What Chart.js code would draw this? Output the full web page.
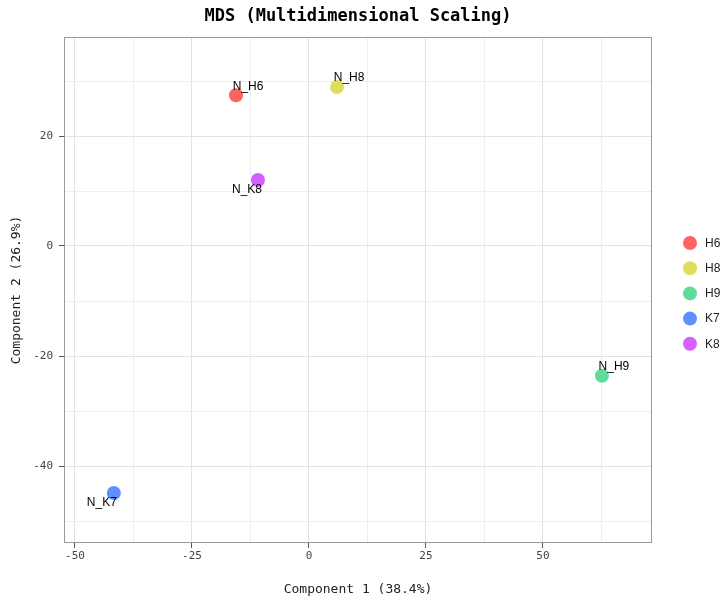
<!DOCTYPE html>
<html><head><meta charset="utf-8">
<script src="https://cdn.jsdelivr.net/npm/chart.js@4/dist/chart.umd.min.js"></script>
<style>html,body{margin:0;padding:0;background:#fff}#wrap{width:720px;height:603px;position:relative}</style>
</head><body><div id="wrap"><canvas id="c" width="720" height="603"></canvas></div>
<script>
const groups = ['H6','H8','H9','K7','K8'];
const sampleLabels = ['N_H6','N_H8','N_H9','N_K7','N_K8'];
const comp1 = [-15.6, 6.0, 62.6, -41.7, -10.9];
const comp2 = [27.4, 28.9, -23.6, -44.9, 12.0];
const xTicks = [-50, -25, 0, 25, 50];
const yTicks = [-40, -20, 0, 20];
const titleText = 'MDS (Multidimensional Scaling)';
const xTitle = 'Component 1 (38.4%)';
const yTitle = 'Component 2 (26.9%)';

const colors = ['#FF6262','#DEDE5E','#5FDC9C','#5F8EFF','#D660FF'];
const labelOffsets = [[12,-9],[12,-9],[12,-9],[-12,10],[-11,10]];
const MONO = '"DejaVu Sans Mono", monospace';
const SANS = '"Liberation Sans", Arial, sans-serif';

const datasets = groups.map((g,i)=>({
  label: g,
  data: [{x: comp1[i], y: comp2[i], name: sampleLabels[i]}],
  backgroundColor: colors[i],
  borderColor: colors[i],
  pointRadius: 7,
  pointHoverRadius: 7,
  borderWidth: 0
}));

function withMinor(major){
  const out = [];
  for (let i=0;i<major.length;i++){
    out.push({value: major[i], major: true});
  }
  const step = major[1]-major[0];
  for (let v = major[0]-step/2; v <= major[major.length-1]+step; v += step){
    out.push({value: v, major: false});
  }
  return out.sort((a,b)=>a.value-b.value);
}

const decor = {
  id: 'decor',
  afterDatasetsDraw(chart){
    const ctx = chart.ctx, ca = chart.chartArea;
    ctx.save();
    ctx.strokeStyle = '#9a9a9a'; ctx.lineWidth = 1;
    ctx.strokeRect(ca.left+0.5, ca.top+0.5, ca.right-ca.left-1, ca.bottom-ca.top-1);
    ctx.fillStyle = '#000'; ctx.font = '12px ' + SANS;
    ctx.textAlign = 'center'; ctx.textBaseline = 'middle';
    const xs = chart.scales.x, ys = chart.scales.y;
    for (let i=0;i<sampleLabels.length;i++){
      const px = xs.getPixelForValue(comp1[i]), py = ys.getPixelForValue(comp2[i]);
      ctx.fillText(sampleLabels[i], px + labelOffsets[i][0], py + labelOffsets[i][1]);
    }
    ctx.restore();
  },
  afterDraw(chart){
    const ctx = chart.ctx, ca = chart.chartArea;
    ctx.save();
    const cx = (ca.left+ca.right)/2, cy = (ca.top+ca.bottom)/2;
    ctx.fillStyle = '#000';
    ctx.font = 'bold 17px ' + MONO;
    ctx.textAlign = 'center'; ctx.textBaseline = 'middle';
    ctx.fillText(titleText, cx, 17);
    ctx.fillStyle = '#222';
    ctx.font = '13px ' + MONO;
    ctx.fillText(xTitle, cx, 590);
    ctx.save();
    ctx.translate(17, cy); ctx.rotate(-Math.PI/2);
    ctx.fillText(yTitle, 0, 0);
    ctx.restore();
    ctx.font = '12px ' + SANS; ctx.textAlign = 'left';
    for (let i=0;i<groups.length;i++){
      const y = 243 + i*25.2;
      ctx.beginPath(); ctx.arc(690, y, 7, 0, Math.PI*2);
      ctx.fillStyle = colors[i]; ctx.fill();
      ctx.fillStyle = '#222';
      ctx.fillText(groups[i], 705, y+0.5);
    }
    ctx.restore();
  }
};

new Chart(document.getElementById('c'), {
  type: 'scatter',
  data: { datasets },
  options: {
    responsive: false,
    animation: false,
    layout: { padding: { top: 37, right: 68, left: 0, bottom: 0 } },
    plugins: { legend: { display: false }, title: { display: false }, tooltip: { enabled: false } },
    scales: {
      x: {
        type: 'linear', min: -52.35, max: 73.3,
        afterBuildTicks(s){ s.ticks = withMinor(xTicks).filter(t=>t.value>=s.min && t.value<=s.max); },
        afterFit(s){ s.height = 60; },
        ticks: {
          font: { family: MONO, size: 11 }, color: '#444', padding: 2, maxRotation: 0, autoSkip: false,
          callback(v){ return xTicks.includes(v) ? String(v) : ''; }
        },
        grid: {
          color: c => (c.tick && xTicks.includes(c.tick.value)) ? '#e2e2e2' : '#eeeeee',
          tickColor: c => (c.tick && xTicks.includes(c.tick.value)) ? '#555' : 'rgba(0,0,0,0)',
          tickLength: 5, lineWidth: 1
        },
        border: { display: false }
      },
      y: {
        type: 'linear', min: -54, max: 38,
        afterBuildTicks(s){ s.ticks = withMinor(yTicks).filter(t=>t.value>=s.min && t.value<=s.max); },
        afterFit(s){ s.width = 64; },
        ticks: {
          font: { family: MONO, size: 11 }, color: '#444', padding: 6, autoSkip: false,
          callback(v){ return yTicks.includes(v) ? String(v) : ''; }
        },
        grid: {
          color: c => (c.tick && yTicks.includes(c.tick.value)) ? '#e2e2e2' : '#eeeeee',
          tickColor: c => (c.tick && yTicks.includes(c.tick.value)) ? '#555' : 'rgba(0,0,0,0)',
          tickLength: 5, lineWidth: 1
        },
        border: { display: false }
      }
    }
  },
  plugins: [decor]
});
</script></body></html>
